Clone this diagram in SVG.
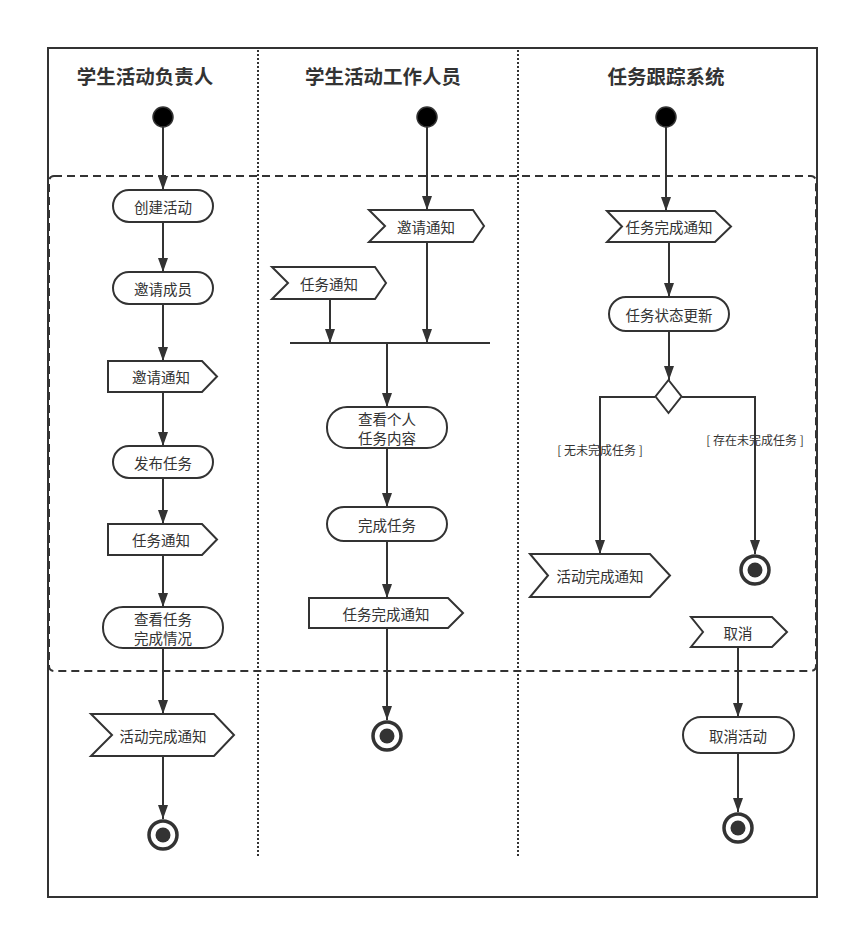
<svg xmlns="http://www.w3.org/2000/svg" width="849" height="929" viewBox="0 0 849 929">
<defs>
<marker id="arrd" viewBox="0 0 14 10" refX="14" refY="5" markerWidth="14" markerHeight="10" markerUnits="userSpaceOnUse" orient="auto">
<path d="M0,0 L14,5 L0,10 z" fill="#333"/>
</marker>
</defs>
<style>
.frame{fill:#fff;stroke:#333;stroke-width:2}
.sep{stroke:#333;stroke-width:2;stroke-dasharray:2 2;fill:none}
.region{fill:none;stroke:#333;stroke-width:2;stroke-dasharray:8 5}
.hdr{font-family:"Noto Sans CJK SC","Liberation Sans",sans-serif;font-size:19.5px;font-weight:bold;fill:#333;text-anchor:middle}
.t{font-family:"Noto Sans CJK SC","Liberation Sans",sans-serif;font-size:14.5px;fill:#333;text-anchor:middle;dominant-baseline:central}
.g{font-family:"Noto Sans CJK SC","Liberation Sans",sans-serif;font-size:12px;fill:#333;text-anchor:middle;dominant-baseline:central}
.act{fill:#fff;stroke:#333;stroke-width:2}
.sig{fill:#fff;stroke:#333;stroke-width:2;stroke-linejoin:miter}
.init{fill:#000;stroke:#333;stroke-width:1.5}
.endo{fill:#fff;stroke:#333;stroke-width:3.5}
.endi{fill:#333}
.c{fill:none;stroke:#333;stroke-width:2;marker-end:url(#arrd)}
.bar{stroke:#333;stroke-width:2}
</style>
<rect x="48" y="48" width="769" height="849" class="frame"/>
<line x1="258" y1="50" x2="258" y2="857" class="sep"/>
<line x1="518" y1="50" x2="518" y2="857" class="sep"/>
<rect x="49" y="176" width="767" height="495" rx="5" class="region"/>
<text x="145" y="84" class="hdr">学生活动负责人</text>
<text x="383" y="84" class="hdr">学生活动工作人员</text>
<text x="666" y="84" class="hdr">任务跟踪系统</text>

<g id="connectors">
<path d="M163,127 V190" class="c"/>
<path d="M163,222 V272" class="c"/>
<path d="M163,304 V361" class="c"/>
<path d="M163,392 V446" class="c"/>
<path d="M163,478 V524" class="c"/>
<path d="M163,555 V607" class="c"/>
<path d="M163,648 V714" class="c"/>
<path d="M163,756 V819" class="c"/>
<path d="M427,127 V210" class="c"/>
<path d="M427,242 V343" class="c"/>
<path d="M330,299 V343" class="c"/>
<path d="M387,343 V407" class="c"/>
<path d="M387,448 V507" class="c"/>
<path d="M387,541 V598" class="c"/>
<path d="M387,628 V720" class="c"/>
<path d="M666,127 V211" class="c"/>
<path d="M669,242 V297" class="c"/>
<path d="M669,331 V380" class="c"/>
<path d="M655,397 H600 V554" class="c"/>
<path d="M682,397 H755 V554" class="c"/>
<path d="M738,647 V717" class="c"/>
<path d="M738,753 V812" class="c"/>
<text x="600" y="449" class="g">[ 无未完成任务 ]</text>
<text x="755" y="439" class="g">[ 存在未完成任务 ]</text>
</g>

<g id="init1"><circle cx="163" cy="117" r="10" class="init"/></g>
<g id="init2"><circle cx="427" cy="117" r="10" class="init"/></g>
<g id="init3"><circle cx="666" cy="117" r="10" class="init"/></g>

<g id="n-create"><rect x="113" y="190" width="100" height="32" rx="16" class="act"/><text x="163" y="206" class="t">创建活动</text></g>
<g id="n-invite"><rect x="113" y="272" width="100" height="32" rx="16" class="act"/><text x="163" y="288" class="t">邀请成员</text></g>
<g id="n-invite-send"><polygon points="108,361 202,361 217,376.5 202,392 108,392" class="sig"/><text x="161" y="376.5" class="t">邀请通知</text></g>
<g id="n-publish"><rect x="113" y="446" width="100" height="32" rx="16" class="act"/><text x="163" y="462" class="t">发布任务</text></g>
<g id="n-task-send"><polygon points="108,524 202,524 217,539.5 202,555 108,555" class="sig"/><text x="161" y="539.5" class="t">任务通知</text></g>
<g id="n-view-done"><rect x="103" y="607" width="120" height="41" rx="20" class="act"/><text x="163" y="618" class="t">查看任务</text><text x="163" y="637" class="t">完成情况</text></g>
<g id="n-act-done-recv1"><polygon points="91,714 214,714 234,735 214,756 91,756 112,735" class="sig"/><text x="163" y="735" class="t">活动完成通知</text></g>
<g id="end1"><circle cx="163" cy="835" r="14" class="endo"/><circle cx="163" cy="835" r="7.5" class="endi"/></g>

<g id="n-invite-recv"><polygon points="369,210 473,210 484,226 473,242 369,242 385,226" class="sig"/><text x="426" y="226" class="t">邀请通知</text></g>
<g id="n-task-recv"><polygon points="272,267 375,267 386,283 375,299 272,299 288,283" class="sig"/><text x="329" y="283" class="t">任务通知</text></g>
<g id="fork"><line x1="290" y1="343" x2="490" y2="343" class="bar"/></g>
<g id="n-view-task"><rect x="327" y="407" width="120" height="41" rx="20" class="act"/><text x="387" y="418" class="t">查看个人</text><text x="387" y="437" class="t">任务内容</text></g>
<g id="n-finish"><rect x="327" y="507" width="120" height="34" rx="17" class="act"/><text x="387" y="524" class="t">完成任务</text></g>
<g id="n-finish-send"><polygon points="309,598 448,598 463,613 448,628 309,628" class="sig"/><text x="386" y="613" class="t">任务完成通知</text></g>
<g id="end2"><circle cx="387" cy="736" r="14" class="endo"/><circle cx="387" cy="736" r="7.5" class="endi"/></g>

<g id="n-finish-recv"><polygon points="607,211 715,211 731,226.5 715,242 607,242 622,226.5" class="sig"/><text x="669" y="226.5" class="t">任务完成通知</text></g>
<g id="n-status"><rect x="609" y="297" width="120" height="34" rx="17" class="act"/><text x="669" y="314" class="t">任务状态更新</text></g>
<g id="decision"><polygon points="668.5,380 681.5,396.5 668.5,413 655.5,396.5" class="act"/></g>
<g id="n-act-done-recv2"><polygon points="530,554 650,554 670,575.5 650,597 530,597 548,575.5" class="sig"/><text x="600" y="575.5" class="t">活动完成通知</text></g>
<g id="end3"><circle cx="755" cy="570" r="14" class="endo"/><circle cx="755" cy="570" r="7.5" class="endi"/></g>
<g id="n-cancel-recv"><polygon points="691,617 772,617 787,632 772,647 691,647 703,632" class="sig"/><text x="738" y="632" class="t">取消</text></g>
<g id="n-cancel"><rect x="683" y="717" width="111" height="36" rx="18" class="act"/><text x="738" y="735" class="t">取消活动</text></g>
<g id="end4"><circle cx="738" cy="828" r="14" class="endo"/><circle cx="738" cy="828" r="7.5" class="endi"/></g>
</svg>
